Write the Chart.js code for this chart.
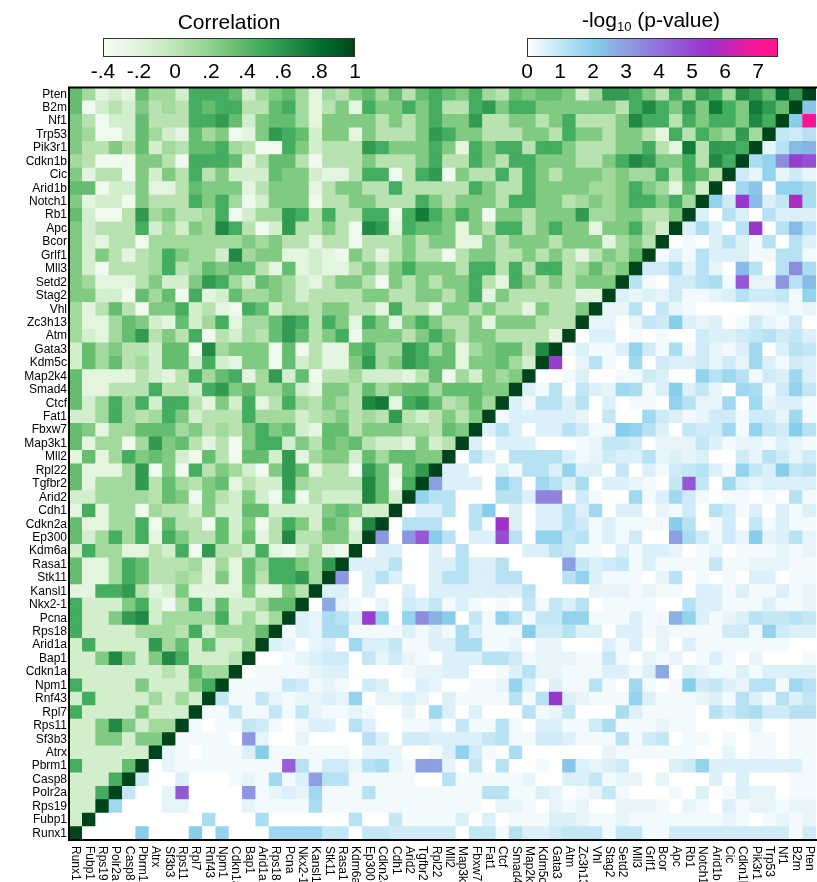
<!DOCTYPE html>
<html>
<head>
<meta charset="utf-8">
<script src="https://cdn.jsdelivr.net/npm/chart.js@4.4.1/dist/chart.umd.min.js"></script>
<style>
  html, body { margin:0; padding:0; background:#fff; }
  #wrap { position:relative; width:817px; height:882px; overflow:hidden; background:#fff; }
  canvas { position:absolute; top:0; }
  .ttl { position:absolute; font-family:"Liberation Sans", Arial, sans-serif; font-size:21px; color:#000; text-align:center; white-space:nowrap; line-height:26px; }
  .ttl sub { font-size:13px; vertical-align:-4px; line-height:0; }
</style>
</head>
<body>
<div id="wrap">
  <canvas id="main" width="817" height="882" style="left:0"></canvas>
  <canvas id="cbCorr" width="400" height="95" style="left:0"></canvas>
  <canvas id="cbP" width="400" height="95" style="left:430px"></canvas>
  <div class="ttl" style="left:129px; top:9px; width:200px;">Correlation</div>
  <div class="ttl" style="left:551px; top:7px; width:200px;">-log<sub>10</sub> (p-value)</div>
</div>
<script>
// ---------------- DATA ----------------
const rowLabels = ['Pten','B2m','Nf1','Trp53','Pik3r1','Cdkn1b','Cic','Arid1b','Notch1','Rb1','Apc','Bcor','Grlf1','Mll3','Setd2','Stag2','Vhl','Zc3h13','Atm','Gata3','Kdm5c','Map2k4','Smad4','Ctcf','Fat1','Fbxw7','Map3k1','Mll2','Rpl22','Tgfbr2','Arid2','Cdh1','Cdkn2a','Ep300','Kdm6a','Rasa1','Stk11','Kansl1','Nkx2-1','Pcna','Rps18','Arid1a','Bap1','Cdkn1a','Npm1','Rnf43','Rpl7','Rps11','Sf3b3','Atrx','Pbrm1','Casp8','Polr2a','Rps19','Fubp1','Runx1'];
const colLabels = ['Runx1','Fubp1','Rps19','Polr2a','Casp8','Pbrm1','Atrx','Sf3b3','Rps11','Rpl7','Rnf43','Npm1','Cdkn1a','Bap1','Arid1a','Rps18','Pcna','Nkx2-1','Kansl1','Stk11','Rasa1','Kdm6a','Ep300','Cdkn2a','Cdh1','Arid2','Tgfbr2','Rpl22','Mll2','Map3k1','Fbxw7','Fat1','Ctcf','Smad4','Map2k4','Kdm5c','Gata3','Atm','Zc3h13','Vhl','Stag2','Setd2','Mll3','Grlf1','Bcor','Apc','Rb1','Notch1','Arid1b','Cic','Cdkn1b','Pik3r1','Trp53','Nf1','B2m','Pten'];

// correlation (upper-left triangle), one level character per cell, row r holds columns 0..54-r
const corrLevelValues = {'0':-0.33,'1':-0.22,'2':-0.12,'3':0.02,'4':0.12,'5':0.25,'6':0.35,'7':0.46,'8':0.56,'9':0.66,'a':0.74,'b':0.79,'c':0.84};
const corrRows = [
 '6412164427776245641'+'4356463676574365665'+'248875374874986c8',
 '6023253437677336741'+'3517557573378577555'+'5553797585a75a86',
 '5302263337786256641'+'5555353575583355357'+'333597737577597',
 '5400264216450158762'+'5515333587553335537'+'55355317375484',
 '5335362436674300752'+'3338755575175773775'+'33355731a3887',
 '4300055307776136630'+'3335333573375377555'+'335798557397',
 '5133052537352226552'+'1137703780533737535'+'55454473763',
 '6602251136555135551'+'3553373333375337555'+'5445754162',
 '5122053337574025550'+'3355333753555377553'+'454577574',
 '6200384533470244873'+'7337707a75750553555'+'84455335',
 '5233372425497302833'+'5309817665153773575'+'5155742',
 '5213304444444545331'+'3303335355115355535'+'551453',
 '5253134754429455112'+'1053135330355335353'+'13546',
 '5203334734656631612'+'1135357555377373773'+'4645',
 '5411135225874265421'+'3553053535573175353'+'555',
 '5522064607126445423'+'3335533553571533333'+'11',
 '4136305572310762443'+'5533173315535331533'+'5',
 '4114652162471446873'+'7517515753351555333',
 '4214683537032436863'+'570555357535533331',
 '2645332660945550603'+'11674487461456639',
 '2646342662721550623'+'1158458766155642',
 '6111132137467148260'+'334222136042545',
 '6113337332785644621'+'55364566466655',
 '6247472773152713743'+'5439a17863464',
 '2247434752333744423'+'453438323535',
 '6514466645343575621'+'66355544365',
 '6144048563130577253'+'6563221523',
 '1614756520630662814'+'552646655',
 '6111480507354205861'+'33086168',
 '6144483643561322843'+'3339607',
 '2244443650532520703'+'222962',
 '1714404332522662222'+'56522',
 '6114470633062503752'+'6519',
 '6247471753362613933'+'552',
 '2744113270833271024'+'10',
 '6114763334141647754'+'8',
 '6114763343151637784',
 '117783125111151153',
 '72225720372622466',
 '7225892444472424',
 '722224443724446',
 '27222284626224',
 '2259525972223',
 '222222232644',
 '72222522257',
 '2722224242',
 '722225222',
 '22595244',
 '2255255',
 '222222',
 '72226',
 '2227',
 '227',
 '22',
 '2',
 ''
];

// -log10(p) (lower-right triangle), base-36 digit x 0.2, row r holds columns 56-r..55
const pStep = 0.2;
const pRows = [
 '',
 'b',
 'az',
 '546',
 '26cd',
 '79hqo',
 '429242',
 '08b0997',
 '94rc35t7',
 '306306333',
 '37306r06c6',
 '01036316063',
 '131633311661',
 '4472620c606h7',
 '61044671n22g6c',
 '323241123644519',
 '2260521000011212',
 '220254a3230142140',
 '033010100433456453',
 '1311394171421380365',
 'q0261080433424283143',
 '001300114300968614383',
 '31605328713a3520871495',
 '31663603011096228082331',
 '133333205008431244144281',
 '3630336411a963054481954a6',
 '30333000125540222531221321',
 '063066663124336232300426424',
 '3300316639330503145631953a56',
 'f333096086370332105n508323333',
 '966000663ii0410081384101101061',
 '033606a030336380330214064130313',
 '06660060s303364131111a6014051311',
 'g0gna6033o609956131400f74142a2362',
 '0330030600003365110313320120111212',
 '3336003363360000f534513111151122211',
 'g03630036633660006931110260101033011',
 '3303003033333336000022212110331311312',
 '0'+'e210204351310105153'+'601111006331113112',
 '32'+'763q909hda051961559'+'9111311d9312365565',
 '132'+'771111313173111a446'+'330331211114419433',
 '3202'+'3083351133771120220'+'003130203111111100',
 '00123'+'4405242103336641222'+'115102120131020001',
 '011112'+'3300001223300136221'+'113313e03211313333',
 '1111541'+'2104300320011293031'+'16108101a453266186',
 '51152122'+'32902232031111616r3'+'211193111231631635',
 '115115152'+'1121002083030006125'+'000731111064674466',
 '1011541013'+'3063001120511610331'+'147111211000020011',
 '11110g20020'+'0006304433335611443'+'111614501101011011',
 '2101113a1111'+'1102220013941070000'+'002111111002011011',
 '0211111111m61'+'4426721ff205060010b'+'323400034933333331',
 '4003000121813f'+'6611111006111112003'+'351220200030300011',
 '5002n0000g12328'+'1116111111116611320'+'125100010301322011',
 '8000220000211117'+'1111111111110221021'+'200222102103122122',
 '00000000700070000'+'0060051111303011133'+'211211111112101212',
 '0000a000a090008888'+'5505544444055163345'+'551551144444444414'
];

// colour bars
const corrTickValues = [-0.4,-0.2,0,0.2,0.4,0.6,0.8,1];
const corrTickLabels = ['-.4','-.2','0','.2','.4','.6','.8','1'];
const pTickValues = [0,1,2,3,4,5,6,7];
const pTickLabels = ['0','1','2','3','4','5','6','7'];
const corrStops = [[-0.4,'#f7fcf5'],[-0.225,'#e5f5e0'],[-0.05,'#c7e9c0'],[0.125,'#a1d99b'],[0.3,'#74c476'],[0.475,'#41ab5d'],[0.65,'#238b45'],[0.825,'#006d2c'],[1,'#00441b']];
const pStops = [[0,'#ffffff'],[2,'#87ceeb'],[4,'#9370db'],[5.5,'#9932cc'],[7,'#ff1493'],[7.6,'#ff1493']];

// ---------------- HELPERS ----------------
const FONT = '"Liberation Sans", Arial, Helvetica, sans-serif';
function hex2rgb(h){ return [parseInt(h.substr(1,2),16),parseInt(h.substr(3,2),16),parseInt(h.substr(5,2),16)]; }
function cmap(stops, v){
  if (v <= stops[0][0]) return stops[0][1];
  for (let i=1;i<stops.length;i++){
    if (v <= stops[i][0]) {
      const [v0,c0]=stops[i-1],[v1,c1]=stops[i];
      const t=(v-v0)/(v1-v0), a=hex2rgb(c0), b=hex2rgb(c1);
      return 'rgb('+a.map((x,k)=>Math.round(x+(b[k]-x)*t)).join(',')+')';
    }
  }
  return stops[stops.length-1][1];
}
const N = rowLabels.length;
function cellValue(r, c){
  if (r + c === N - 1) return {type:'corr', v:1};
  if (r + c < N - 1) {
    const ch = (corrRows[r] || '')[c];
    const v = corrLevelValues[ch];
    return {type:'corr', v: v === undefined ? 0.02 : v};
  }
  const start = N - r;
  const ch = (pRows[r] || '')[c - start];
  const idx = ch === undefined ? 0 : parseInt(ch, 36);
  return {type:'p', v: idx * pStep};
}
function cellColor(r, c){
  const cv = cellValue(r, c);
  return cv.type === 'corr' ? cmap(corrStops, cv.v) : cmap(pStops, cv.v);
}

// ---------------- MAIN HEATMAP ----------------
const datasets = [];
for (let r = N - 1; r >= 0; r--) {
  datasets.push({
    label: rowLabels[r],
    data: colLabels.map(() => 1),
    backgroundColor: colLabels.map((_, c) => cellColor(r, c)),
    borderWidth: 0,
    barPercentage: 1,
    categoryPercentage: 1
  });
}

const framePlugin = {
  id: 'frameAndColLabels',
  afterDraw(chart) {
    const {ctx, chartArea, scales:{x}} = chart;
    ctx.save();
    ctx.font = '12px ' + FONT;
    ctx.fillStyle = '#000';
    ctx.textAlign = 'left';
    ctx.textBaseline = 'middle';
    colLabels.forEach((lab, i) => {
      const px = x.getPixelForValue(i);
      ctx.save();
      ctx.translate(px, chartArea.bottom + 6);
      ctx.rotate(Math.PI / 2);
      ctx.fillText(lab, 0, 0);
      ctx.restore();
    });
    ctx.strokeStyle = '#000';
    ctx.lineWidth = 2;
    ctx.beginPath();
    ctx.moveTo(chartArea.right + 2, chartArea.top);
    ctx.lineTo(chartArea.left, chartArea.top);
    ctx.lineTo(chartArea.left, chartArea.bottom);
    ctx.lineTo(chartArea.right + 2, chartArea.bottom);
    ctx.stroke();
    ctx.restore();
  }
};

new Chart(document.getElementById('main'), {
  type: 'bar',
  data: { labels: colLabels, datasets },
  options: {
    responsive: false,
    devicePixelRatio: 1,
    animation: false,
    layout: { padding: { top: 87.5, right: 1, left: 0, bottom: 0 } },
    plugins: { legend: { display: false }, tooltip: { enabled: false } },
    scales: {
      x: {
        type: 'category',
        stacked: true,
        grid: { display: false, drawTicks: false },
        border: { display: false },
        ticks: { display: false },
        afterFit(s) { s.height = 42; }
      },
      y: {
        type: 'linear',
        stacked: true,
        min: 0,
        max: N,
        grid: { display: false, drawTicks: false },
        border: { display: false },
        afterBuildTicks(s) { s.ticks = rowLabels.map((_, i) => ({ value: i + 0.5 })); },
        ticks: {
          autoSkip: false,
          padding: 2,
          color: '#000',
          font: { family: FONT, size: 12 },
          callback: (v) => rowLabels[N - 1 - Math.floor(v)]
        },
        afterFit(s) { s.width = 69; }
      }
    }
  },
  plugins: [framePlugin]
});

// ---------------- COLOUR BARS ----------------
const cbarPlugin = {
  id: 'cbar',
  beforeDatasetsDraw(chart, args, opts) {
    const {ctx, chartArea:{left, right, top, bottom}, scales:{x}} = chart;
    const g = ctx.createLinearGradient(left, 0, right, 0);
    opts.stops.forEach(([v, c]) => {
      const p = (x.getPixelForValue(v) - left) / (right - left);
      g.addColorStop(Math.min(1, Math.max(0, p)), c);
    });
    ctx.save();
    ctx.fillStyle = g;
    ctx.fillRect(left, top, right - left, bottom - top);
    ctx.strokeStyle = '#333';
    ctx.lineWidth = 1;
    ctx.strokeRect(left + 0.5, top + 0.5, right - left - 1, bottom - top - 1);
    ctx.restore();
  }
};
function makeBar(id, min, max, vals, labels, stops, padL, padR) {
  new Chart(document.getElementById(id), {
    type: 'scatter',
    data: { datasets: [{ data: [] }] },
    options: {
      responsive: false,
      devicePixelRatio: 1,
      animation: false,
      layout: { padding: { top: 38, left: padL, right: padR, bottom: 0 } },
      plugins: { legend: { display: false }, tooltip: { enabled: false }, cbar: { stops } },
      scales: {
        x: {
          type: 'linear', min, max,
          grid: { display: false, drawTicks: false },
          border: { display: false },
          afterBuildTicks(s) { s.ticks = vals.map(v => ({ value: v })); },
          ticks: {
            autoSkip: false, maxRotation: 0, padding: 3, color: '#000',
            font: { family: FONT, size: 21 },
            callback: (v, i) => labels[i]
          },
          afterFit(s) { s.height = 38; }
        },
        y: { display: false, min: 0, max: 1 }
      }
    },
    plugins: [cbarPlugin]
  });
}
makeBar('cbCorr', -0.4, 1.0, corrTickValues, corrTickLabels, corrStops, 103, 45);
makeBar('cbP', 0, 7.6, pTickValues, pTickLabels, pStops, 97, 52);
</script>
</body>
</html>
